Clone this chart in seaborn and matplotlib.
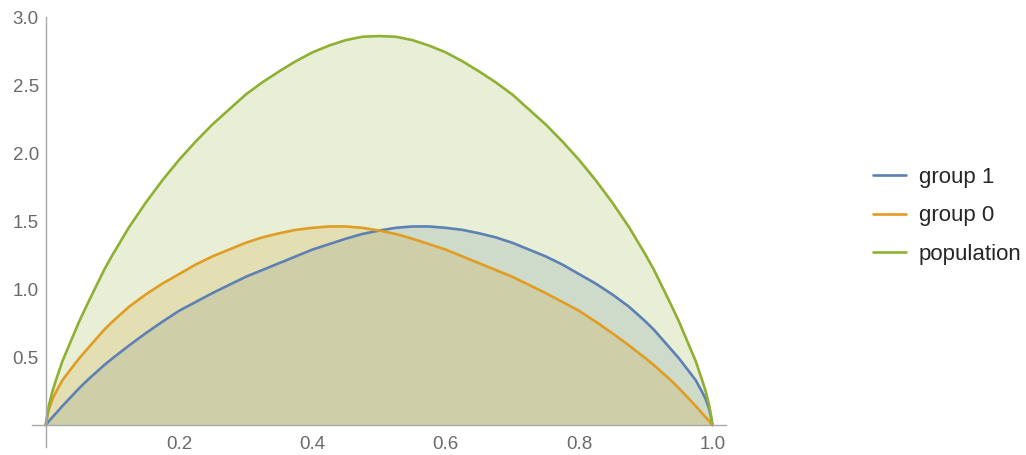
import numpy as np
import pandas as pd
import seaborn as sns
import matplotlib.pyplot as plt
from matplotlib.ticker import FixedLocator, MultipleLocator

# values
x_vals = [0.0, 0.0025, 0.005, 0.01, 0.015, 0.025, 0.0375, 0.05, 0.0625, 0.075, 0.0875,
          0.1, 0.125, 0.15, 0.175, 0.2, 0.225, 0.25, 0.275, 0.3, 0.325, 0.35, 0.375,
          0.4, 0.425, 0.45, 0.475, 0.5, 0.525, 0.55, 0.575, 0.6, 0.625, 0.65, 0.675,
          0.7, 0.725, 0.75, 0.775, 0.8, 0.825, 0.85, 0.875, 0.9, 0.9125, 0.925, 0.9375,
          0.95, 0.9625, 0.975, 0.985, 0.99, 0.995, 0.9975, 1.0]
group_0 = [0.0, 0.07, 0.12, 0.19, 0.24, 0.33, 0.41, 0.49, 0.56, 0.63, 0.70,
           0.76, 0.87, 0.96, 1.04, 1.11, 1.18, 1.24, 1.29, 1.34, 1.38, 1.41, 1.435,
           1.45, 1.46, 1.46, 1.45, 1.43, 1.405, 1.37, 1.33, 1.29, 1.24, 1.19, 1.14,
           1.09, 1.03, 0.97, 0.905, 0.84, 0.76, 0.675, 0.585, 0.49, 0.44, 0.385, 0.33,
           0.27, 0.205, 0.14, 0.085, 0.058, 0.03, 0.015, 0.0]
group_1 = [0.0, 0.015, 0.03, 0.058, 0.085, 0.14, 0.205, 0.27, 0.33, 0.385, 0.44,
           0.49, 0.585, 0.675, 0.76, 0.84, 0.905, 0.97, 1.03, 1.09, 1.14, 1.19, 1.24,
           1.29, 1.33, 1.37, 1.405, 1.43, 1.45, 1.46, 1.46, 1.45, 1.435, 1.41, 1.38,
           1.34, 1.29, 1.24, 1.18, 1.11, 1.04, 0.96, 0.87, 0.76, 0.70, 0.63, 0.56,
           0.49, 0.41, 0.33, 0.24, 0.19, 0.12, 0.07, 0.0]
population = [0.0, 0.085, 0.15, 0.248, 0.325, 0.47, 0.615, 0.76, 0.89, 1.015, 1.14,
              1.25, 1.455, 1.635, 1.80, 1.95, 2.085, 2.21, 2.32, 2.43, 2.52, 2.60, 2.675,
              2.74, 2.79, 2.83, 2.855, 2.86, 2.855, 2.83, 2.79, 2.74, 2.675, 2.60, 2.52,
              2.43, 2.32, 2.21, 2.085, 1.95, 1.80, 1.635, 1.455, 1.25, 1.14, 1.015, 0.89,
              0.76, 0.615, 0.47, 0.325, 0.248, 0.15, 0.085, 0.0]

series_names = ["group 1", "group 0", "population"]
colors = ["#5E81B5", "#E19C24", "#8FB032"]

df = pd.concat([
    pd.DataFrame({"x": x_vals, "y": group_1, "series": "group 1"}),
    pd.DataFrame({"x": x_vals, "y": group_0, "series": "group 0"}),
    pd.DataFrame({"x": x_vals, "y": population, "series": "population"}),
], ignore_index=True)

sns.set_theme(style="white")
plt.rcParams["font.family"] = ["Liberation Sans", "DejaVu Sans"]

fig = plt.figure(figsize=(10.26, 4.55), dpi=100)
ax = fig.add_axes([0.0316, 0.018, 0.6757, 0.9446])

# filled areas down to the axis
for name, col in zip(series_names, colors):
    sub = df[df["series"] == name]
    ax.fill_between(sub["x"], 0, sub["y"], color=col, alpha=0.2, linewidth=0)

sns.lineplot(data=df, x="x", y="y", hue="series", hue_order=series_names,
             palette=colors, estimator=None, sort=False, linewidth=1.9, ax=ax)

ax.set_xlim(-0.02, 1.02)
ax.set_ylim(-0.16, 3.0)
ax.set_xlabel("")
ax.set_ylabel("")

# Mathematica-like axes through the origin
axis_col = "#a8a8a8"
ax.spines["left"].set_position(("data", 0))
ax.spines["bottom"].set_position(("data", 0))
ax.spines["top"].set_visible(False)
ax.spines["right"].set_visible(False)
for s in ["left", "bottom"]:
    ax.spines[s].set_color(axis_col)
    ax.spines[s].set_linewidth(1.0)

ax.xaxis.set_major_locator(FixedLocator([0.2, 0.4, 0.6, 0.8, 1.0]))
ax.xaxis.set_minor_locator(MultipleLocator(0.05))
ax.yaxis.set_major_locator(FixedLocator([0.5, 1.0, 1.5, 2.0, 2.5, 3.0]))
ax.yaxis.set_minor_locator(MultipleLocator(0.1))
ax.xaxis.set_major_formatter(lambda v, p: f"{v:.1f}")
ax.yaxis.set_major_formatter(lambda v, p: f"{v:.1f}")

ax.tick_params(axis="both", which="major", direction="in", length=5, width=0.9,
               color=axis_col, labelcolor="#6a6a6a", labelsize=13.5)
ax.tick_params(axis="both", which="minor", direction="in", length=3, width=0.7,
               color=axis_col)
ax.tick_params(axis="x", which="major", pad=8)
ax.tick_params(axis="y", which="major", pad=5)

handles, labels = ax.get_legend_handles_labels()
ax.get_legend().remove()
fig.legend(handles, labels, loc="center left", bbox_to_anchor=(873 / 1026, 1 - 216 / 455),
           frameon=False, borderpad=0, borderaxespad=0, fontsize=16,
           handlelength=1.5, handletextpad=0.55, labelspacing=0.8)

fig.savefig("out.png", dpi=100)
